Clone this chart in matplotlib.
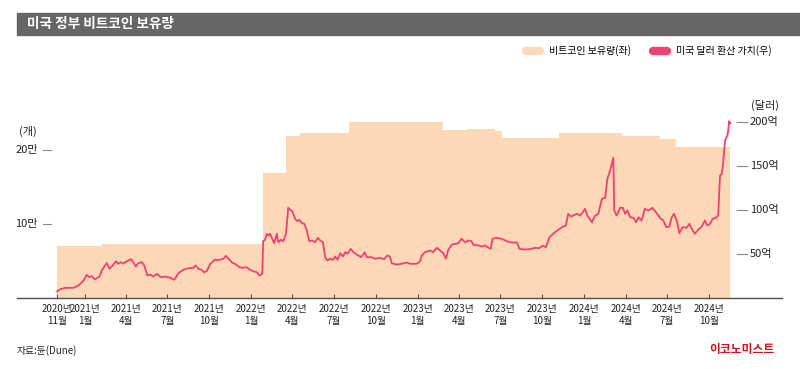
import numpy as np
import matplotlib
matplotlib.use("Agg")
import matplotlib.pyplot as plt
from matplotlib.patches import Rectangle
from matplotlib.lines import Line2D
import matplotlib.transforms as mtransforms

plt.rcParams['font.family'] = ['Noto Sans CJK KR', 'DejaVu Sans']

start = np.datetime64('2020-11-01')

# bitcoin holdings (steps), count of BTC
hold_dates = ['2020-11-01', '2021-02-08', '2022-01-27', '2022-03-18', '2022-04-18',
              '2022-08-03', '2022-12-15', '2022-12-21', '2023-02-25', '2023-04-19',
              '2023-06-19', '2023-07-05', '2023-11-07', '2024-03-24', '2024-06-15',
              '2024-07-20', '2024-11-17']
hold_btc = [69000, 71800, 168000, 218000, 222000,
            236500, 237800, 236500, 225700, 228000,
            225000, 216200, 222000, 218200, 214500,
            204000, 204000]

# USD value (억 달러), days since 2020-11-01
usd_days = [0, 7, 18, 36, 47, 58, 65, 71, 76, 83, 93, 98, 105, 109, 115, 122, 129, 134,
            140, 145, 153, 162, 167, 173, 178, 186, 191, 198, 204, 211, 220, 227, 237,
            248, 257, 266, 277, 288, 299, 304, 310, 317, 322, 328, 336, 346, 357, 365,
            370, 376, 383, 390, 398, 405, 416, 423, 430, 438, 444, 450, 452, 456, 460,
            463, 467, 471, 476, 482, 485, 491, 496, 502, 507, 511, 516, 522, 527, 531,
            537, 542, 548, 553, 559, 566, 572, 577, 583, 588, 593, 599, 605, 610, 615,
            621, 627, 632, 637, 644, 650, 657, 667, 675, 679, 690, 697, 708, 717, 724,
            730, 734, 745, 756, 767, 774, 789, 796, 800, 807, 818, 825, 833, 840, 847,
            853, 858, 866, 873, 880, 887, 895, 902, 909, 913, 924, 931, 939, 946, 951,
            955, 964, 975, 986, 997, 1009, 1014, 1026, 1037, 1048, 1058, 1065, 1072,
            1080, 1088, 1099, 1110, 1116, 1121, 1127, 1132, 1140, 1147, 1153, 1158,
            1163, 1173, 1180, 1187, 1195, 1202, 1207, 1213, 1220, 1222, 1227, 1235,
            1241, 1246, 1251, 1257, 1264, 1270, 1275, 1282, 1289, 1297, 1306, 1315,
            1324, 1330, 1336, 1343, 1348, 1353, 1359, 1365, 1372, 1381, 1387, 1392,
            1399, 1406, 1414, 1421, 1426, 1432, 1438, 1445, 1450, 1454, 1458, 1461,
            1465, 1470, 1472, 1474, 1477]
usd_val = [6.8, 9.4, 11.0, 11.0, 13.6, 19.3, 25.8, 23.1, 24.2, 20.5, 23.9, 30.7, 36.4,
           39.0, 32.6, 36.4, 41.2, 38.3, 40.1, 38.6, 41.2, 43.5, 40.1, 35.2, 39.0, 40.1,
           36.4, 25.0, 26.1, 23.9, 26.9, 23.1, 23.9, 22.4, 20.1, 27.6, 31.5, 33.3, 33.7,
           36.4, 32.6, 31.5, 28.7, 29.9, 38.3, 42.8, 42.8, 44.0, 47.4, 44.0, 40.1, 38.3,
           35.2, 33.7, 34.4, 31.5, 29.9, 28.7, 25.0, 26.9, 64.0, 65.6, 72.4, 70.5, 72.4,
           67.8, 61.7, 72.4, 62.8, 65.6, 64.0, 72.4, 101.9, 99.7, 98.1, 89.4, 86.7, 88.3,
           84.4, 83.8, 76.1, 64.0, 64.8, 62.8, 67.8, 64.8, 62.8, 45.8, 42.0, 44.0, 42.8,
           46.6, 42.8, 50.3, 46.6, 51.5, 49.7, 55.3, 51.5, 48.9, 45.8, 51.5, 45.8, 45.8,
           44.0, 45.1, 43.5, 47.7, 46.6, 39.0, 37.5, 38.3, 39.8, 38.3, 38.3, 40.9, 47.7,
           51.5, 53.4, 51.5, 56.5, 53.4, 50.3, 44.0, 54.2, 60.2, 61.0, 61.7, 66.7, 62.8,
           64.8, 64.0, 59.9, 59.1, 58.0, 59.1, 56.5, 55.3, 66.7, 67.8, 66.7, 64.0, 62.5,
           62.5, 55.3, 54.5, 54.9, 56.5, 56.0, 59.1, 57.2, 68.5, 72.4, 76.9, 80.7, 81.8,
           95.1, 92.0, 93.2, 95.1, 93.2, 96.9, 100.8, 93.2, 85.6, 93.2, 95.1, 112.2,
           113.3, 134.9, 144.3, 158.7, 98.9, 93.2, 101.9, 101.9, 95.1, 98.9, 91.2, 90.6,
           85.6, 91.2, 87.5, 100.8, 98.9, 101.9, 95.8, 89.4, 87.5, 79.9, 80.7, 91.2, 95.1,
           87.5, 73.1, 79.9, 79.2, 83.8, 78.1, 72.4, 76.9, 80.7, 87.5, 81.8, 83.8, 89.4,
           90.6, 93.2, 138.6, 140.6, 153.8, 178.4, 184.1, 189.8, 200.3, 198.1]

tick_months = ['2020-11', '2021-01', '2021-04', '2021-07', '2021-10', '2022-01', '2022-04',
               '2022-07', '2022-10', '2023-01', '2023-04', '2023-07', '2023-10', '2024-01',
               '2024-04', '2024-07', '2024-10']
left_ticks = [100000, 200000]
left_labels = ['10만', '20만']
right_ticks = [50, 100, 150, 200]
right_labels = ['50억', '100억', '150억', '200억']

area_color = '#FDD8B7'
line_color = '#F5406F'

fig = plt.figure(figsize=(8, 3.69), dpi=100)
H = 369.0
ax = fig.add_axes([17 / 800, 1 - 297.5 / H, 765 / 800, 197.5 / H])
ax2 = ax.twinx()

hd = np.array(hold_dates, dtype='datetime64[D]')
ax.fill_between(hd, 0, hold_btc, step='post', color=area_color, lw=0)

ud = start + np.array(usd_days, dtype='timedelta64[D]')
ax2.plot(ud, usd_val, color=line_color, lw=1.3)

ax.set_ylim(0, 197.5 / 0.00074)
ax2.set_ylim(0, 197.5 / 0.88)
ax.set_xlim(start - np.timedelta64(88, 'D'), start + np.timedelta64(1590, 'D'))

tk = np.array(tick_months, dtype='datetime64[D]')
ax.set_xticks(tk)
ax.set_xticklabels([f"{m[:4]}년\n{int(m[5:])}월" for m in tick_months],
                   fontsize=7, color='#222222', linespacing=1.2,
                   family=['Liberation Sans Narrow', 'Noto Sans CJK KR'])
ax.tick_params(axis='x', direction='in', length=3, width=0.8, color='#555555', pad=5)
ax.set_yticks([])
ax2.set_yticks([])
for a in (ax, ax2):
    for s in ['left', 'right', 'top']:
        a.spines[s].set_visible(False)
    a.spines['bottom'].set_color('#555555')
    a.spines['bottom'].set_linewidth(0.9)

# left axis labels
tl = mtransforms.blended_transform_factory(ax.transAxes, ax.transData)
for v, lab in zip(left_ticks, left_labels):
    ax.text(21 / 765, v, lab, transform=tl, ha='right', va='center', fontsize=8, color='#222222')
    ax.plot([26 / 765, 34 / 765], [v, v], transform=tl, color='#888888', lw=0.8)
ax.text(11 / 765, 1 - 31 / 197.5, '(개)', transform=ax.transAxes, ha='center', va='center',
        fontsize=8, color='#222222')

tr = mtransforms.blended_transform_factory(ax2.transAxes, ax2.transData)
for v, lab in zip(right_ticks, right_labels):
    ax2.text(733 / 765, v, lab, transform=tr, ha='left', va='center', fontsize=8, color='#222222')
    ax2.plot([720 / 765, 730 / 765], [v, v], transform=tr, color='#888888', lw=0.8)
ax2.text(748 / 765, 1 - 5 / 197.5, '(달러)', transform=ax2.transAxes, ha='center',
         va='center', fontsize=8, color='#222222')

# title bar
fig.patches.append(Rectangle((17 / 800, 1 - 35 / H), 1 - 17 / 800, 22 / H,
                             transform=fig.transFigure, color='#666666', zorder=0))
fig.text(27 / 800, 1 - 24 / H, '미국 정부 비트코인 보유량', color='white', fontsize=9.8,
         fontweight='bold', va='center', ha='left')

# legend
handles = [Line2D([], [], color=area_color, lw=6, solid_capstyle='round'),
           Line2D([], [], color=line_color, lw=6, solid_capstyle='round')]
fig.legend(handles, ['비트코인 보유량(좌)', '미국 달러 환산 가치(우)'], loc='center right',
           bbox_to_anchor=(781 / 800, 1 - 51 / H), ncol=2, frameon=False, fontsize=7.2,
           handlelength=1.4, handletextpad=0.9, columnspacing=2.2)

fig.text(17 / 800, 1 - 351 / H, '자료:듄(Dune)', fontsize=7, color='#222222', va='center')
fig.text(774 / 800, 1 - 349 / H, '이코노미스트', fontsize=8.5, fontweight='bold',
         color='#D4101E', va='center', ha='right')

fig.savefig('out.png', dpi=100)
